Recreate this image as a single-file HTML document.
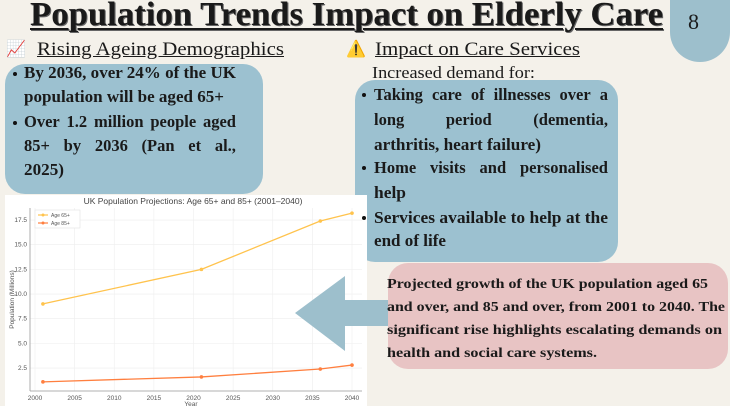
<!DOCTYPE html>
<html><head><meta charset="utf-8"><style>
body{margin:0;width:730px;height:406px;overflow:hidden;background:#f4f1ea;position:relative;font-family:"Liberation Serif",serif;color:#1a1a1a}
div{position:absolute}
.ln{white-space:nowrap;font-weight:bold;font-size:16.5px;line-height:20px;transform-origin:0 50%}
.cap{font-size:14px}
.b{position:absolute;width:4px;height:4px;border-radius:2px;background:#111;z-index:5}
</style></head><body>
<div class="ln" data-w="633" data-j="0" style="left:30px;top:-3px;font-size:34px;line-height:36px;text-decoration:underline;text-decoration-thickness:2px;text-underline-offset:3px;text-shadow:1px 1px 0 #666">Population Trends Impact on Elderly Care</div>
<div style="left:670px;top:-30px;width:60px;height:92px;border-radius:30px 0 30px 30px;background:#9dbfcc"></div>
<div style="left:688px;top:9px;font-size:22px">8</div>

<div style="left:6px;top:39px;font-size:16px">📈</div>
<div class="ln" data-w="247" style="left:37px;top:40px;font-size:19px;font-weight:normal;text-decoration:underline">Rising Ageing Demographics</div>
<div style="left:346px;top:39px;font-size:16px">⚠️</div>
<div class="ln" data-w="205" style="left:375px;top:40px;font-size:19px;font-weight:normal;text-decoration:underline">Impact on Care Services</div>

<div style="left:5px;top:64px;width:258px;height:130px;border-radius:20px;background:#9cc1d0"></div>
<div class="b" style="left:13px;top:72px"></div><div class="b" style="left:13px;top:121px"></div>
<div class="ln" data-w="212" style="left:24px;top:63px">By 2036, over 24% of the UK</div>
<div class="ln" data-w="200" style="left:24px;top:87px">population will be aged 65+</div>
<div class="ln" data-w="212" data-j="1" style="left:24px;top:112px">Over 1.2 million people aged</div>
<div class="ln" data-w="212" data-j="1" style="left:24px;top:136px">85+ by 2036 &nbsp; (Pan et al.,</div>
<div class="ln" data-w="40" style="left:24px;top:160px">2025)</div>

<div class="ln" data-w="163" style="left:372px;top:63px;font-weight:normal">Increased demand for:</div>
<div style="left:355px;top:80px;width:263px;height:182px;border-radius:20px;background:#9cc1d0"></div>
<div class="b" style="left:362px;top:93px"></div><div class="b" style="left:362px;top:166px"></div><div class="b" style="left:362px;top:216px"></div>
<div class="ln" data-w="234" data-j="1" style="left:374px;top:85px">Taking care of illnesses over a</div>
<div class="ln" data-w="234" data-j="1" style="left:374px;top:110px">long period (dementia,</div>
<div class="ln" data-w="167" style="left:374px;top:135px">arthritis, heart failure)</div>
<div class="ln" data-w="234" data-j="1" style="left:374px;top:158px">Home visits and personalised</div>
<div class="ln" data-w="32" style="left:374px;top:183px">help</div>
<div class="ln" data-w="234" style="left:374px;top:208px">Services available to help at the</div>
<div class="ln" data-w="72" style="left:374px;top:231px">end of life</div>

<svg style="position:absolute;left:5px;top:195px" width="362" height="211" id="chart"></svg>

<svg style="position:absolute;left:0;top:0" width="730" height="406"><polygon points="295,313 345,276 345,300 400,300 400,326 345,326 345,351" fill="#9dbfcc"/></svg>

<div style="left:388px;top:263px;width:340px;height:106px;border-radius:20px;background:#e8c4c4"></div>
<div class="ln cap" data-w="321" style="left:387px;top:275px">Projected growth of the UK population aged 65</div>
<div class="ln cap" data-w="338" style="left:387px;top:298px">and over, and 85 and over, from 2001 to 2040. The</div>
<div class="ln cap" data-w="335" style="left:387px;top:321px">significant rise highlights escalating demands on</div>
<div class="ln cap" data-w="210" style="left:387px;top:344px">health and social care systems.</div>

<script>
document.querySelectorAll('.ln').forEach(e=>{
  const W=+e.dataset.w;const nat=e.getBoundingClientRect().width;
  if(e.dataset.j==='1'&&nat<W){
    const words=e.textContent.trim().split(/\s+/);
    e.textContent='';e.style.display='flex';e.style.justifyContent='space-between';e.style.width=W+'px';
    words.forEach(w=>{const s=document.createElement('span');s.textContent=w;e.appendChild(s);});
  } else {e.style.transform='scaleX('+(W/nat)+')';}
});

const years=[2001,2021,2036,2040];
const age65=[9.0,12.5,17.4,18.2];
const age85=[1.1,1.6,2.4,2.8];
const xTicks=[2000,2005,2010,2015,2020,2025,2030,2035,2040];
const yTicks=[2.5,5.0,7.5,10.0,12.5,15.0,17.5];
const svg=document.getElementById('chart');
const NS='http://www.w3.org/2000/svg';
const ox=5,oy=195;
const X=v=>35-ox+(v-2000)*(352-35)/40;
const Y=v=>392.7-oy-v*(368-220)/15;
function el(t,a,txt){const e=document.createElementNS(NS,t);for(const k in a)e.setAttribute(k,a[k]);if(txt!==undefined)e.textContent=txt;svg.appendChild(e);return e;}
el('rect',{x:0,y:0,width:362,height:211,fill:'#fff'});
const L=25,R=357,T=13,B=196;
xTicks.forEach(v=>{const g=el('line',{x1:X(v),x2:X(v),y1:T,y2:B,stroke:'#eee','stroke-width':0.6});

const t=el('text',{x:X(v),y:B+9,'font-size':6.5,'text-anchor':'middle',fill:'#555','font-family':'Liberation Sans'},v);
});
yTicks.forEach(v=>{const g=el('line',{x1:L,x2:R,y1:Y(v),y2:Y(v),stroke:'#eee','stroke-width':0.6});

const t=el('text',{x:L-3,y:Y(v)+2,'font-size':6.5,'text-anchor':'end',fill:'#555','font-family':'Liberation Sans'},v.toFixed(1));
});
el('line',{x1:L,x2:L,y1:T,y2:B,stroke:'#999','stroke-width':0.8});
el('line',{x1:L,x2:R,y1:B,y2:B,stroke:'#999','stroke-width':0.8});
const ti=el('text',{x:188,y:9,'font-size':8.5,'text-anchor':'middle',fill:'#444','font-family':'Liberation Sans'},'UK Population Projections: Age 65+ and 85+ (2001–2040)');

const yl=el('text',{x:0,y:0,'font-size':6.5,'text-anchor':'middle',fill:'#555','font-family':'Liberation Sans',transform:`translate(9,${(T+B)/2}) rotate(-90)`},'Population (Millions)');

const xl=el('text',{x:(L+R)/2-5,y:211,'font-size':6.5,'text-anchor':'middle',fill:'#555','font-family':'Liberation Sans'},'Year');

[[age65,'#ffc34d','age-65'],[age85,'#ff7f3f','age-85']].forEach(([d,c,n])=>{
const p=el('polyline',{points:years.map((y,i)=>X(y)+','+Y(d[i])).join(' '),fill:'none',stroke:c,'stroke-width':1.3});

years.forEach((y,i)=>{const m=el('circle',{cx:X(y),cy:Y(d[i]),r:1.8,fill:c});
});});
el('rect',{x:30,y:15,width:45,height:18,fill:'#fff',stroke:'#ddd','stroke-width':0.5});
[['Age 65+','#ffc34d',20],['Age 85+','#ff7f3f',28]].forEach(([t,c,y])=>{
el('line',{x1:33,x2:43,y1:y,y2:y,stroke:c,'stroke-width':1.2});el('circle',{cx:38,cy:y,r:1.5,fill:c});
const e=el('text',{x:46,y:y+2,'font-size':5,fill:'#555','font-family':'Liberation Sans'},t);
});
</script>
</body></html>
